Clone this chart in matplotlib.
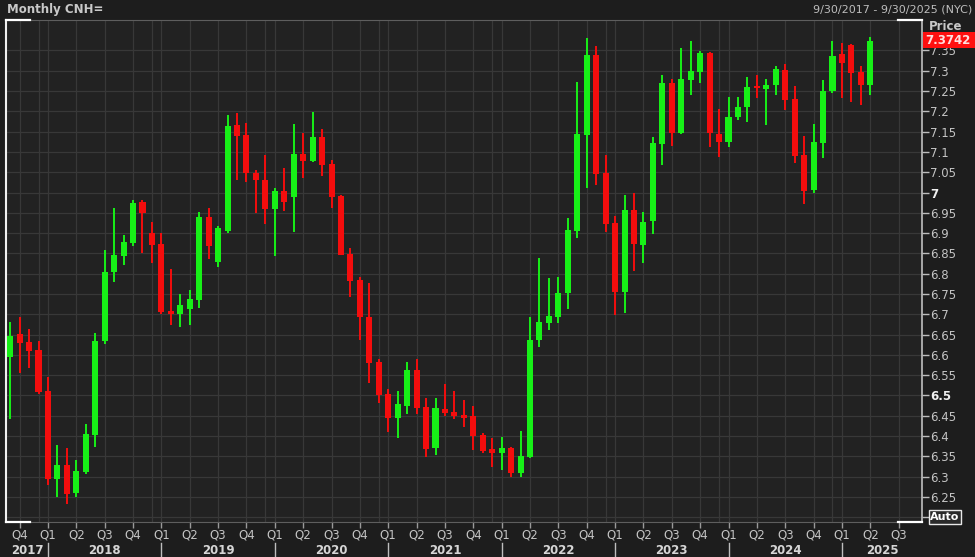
import matplotlib
matplotlib.use('Agg')
import matplotlib.pyplot as plt
import matplotlib.transforms as mtransforms
from matplotlib.patches import Rectangle
import numpy as np
import pandas as pd

# monthly candles, Sep 2017 .. Apr 2025
months = pd.date_range('2017-09-01', '2025-04-01', freq='MS')
axis_months = pd.date_range('2017-09-01', '2025-09-01', freq='MS')

opens = [6.594, 6.651, 6.632, 6.612,
         6.512, 6.294, 6.329, 6.259, 6.311, 6.403, 6.633, 6.803, 6.844, 6.876, 6.977, 6.900,
         6.873, 6.709, 6.701, 6.712, 6.735, 6.939, 6.830, 6.906, 7.166, 7.142, 7.049, 7.032,
         6.959, 7.004, 6.990, 7.096, 7.078, 7.136, 7.070, 6.991, 6.848, 6.784, 6.693, 6.583,
         6.504, 6.444, 6.475, 6.563, 6.471, 6.370, 6.466, 6.460, 6.451, 6.449, 6.403, 6.367,
         6.358, 6.370, 6.310, 6.348, 6.637, 6.678, 6.693, 6.752, 6.904, 7.142, 7.339, 7.047,
         6.924, 6.754, 6.956, 6.871, 6.931, 7.119, 7.270, 7.146, 7.277, 7.298, 7.344, 7.144,
         7.125, 7.187, 7.210, 7.262, 7.254, 7.265, 7.302, 7.230, 7.092, 7.006, 7.123, 7.251,
         7.341, 7.363, 7.298, 7.265]
highs = [6.682, 6.694, 6.663, 6.633,
         6.546, 6.378, 6.370, 6.340, 6.431, 6.653, 6.858, 6.961, 6.895, 6.981, 6.981, 6.928,
         6.900, 6.811, 6.751, 6.761, 6.953, 6.963, 6.917, 7.191, 7.197, 7.172, 7.055, 7.092,
         7.010, 7.060, 7.169, 7.146, 7.199, 7.156, 7.080, 6.993, 6.863, 6.793, 6.776, 6.590,
         6.516, 6.510, 6.583, 6.589, 6.493, 6.493, 6.528, 6.510, 6.489, 6.474, 6.408, 6.396,
         6.398, 6.374, 6.413, 6.694, 6.838, 6.789, 6.793, 6.937, 7.273, 7.380, 7.361, 7.092,
         6.941, 6.994, 6.998, 6.953, 7.136, 7.289, 7.279, 7.355, 7.374, 7.349, 7.347, 7.205,
         7.236, 7.236, 7.285, 7.289, 7.279, 7.312, 7.316, 7.262, 7.139, 7.169, 7.277, 7.374,
         7.369, 7.367, 7.312, 7.384]
lows = [6.441, 6.556, 6.567, 6.504,
        6.280, 6.251, 6.233, 6.251, 6.307, 6.372, 6.627, 6.780, 6.821, 6.868, 6.852, 6.826,
        6.701, 6.674, 6.668, 6.674, 6.715, 6.835, 6.816, 6.901, 7.031, 7.027, 6.950, 6.922,
        6.844, 6.955, 6.903, 7.035, 7.076, 7.041, 6.961, 6.845, 6.742, 6.637, 6.530, 6.482,
        6.411, 6.395, 6.454, 6.455, 6.348, 6.353, 6.450, 6.441, 6.422, 6.366, 6.359, 6.325,
        6.317, 6.300, 6.300, 6.345, 6.620, 6.661, 6.678, 6.712, 6.887, 7.010, 7.018, 6.903,
        6.698, 6.704, 6.807, 6.827, 6.898, 7.068, 7.115, 7.144, 7.240, 7.270, 7.113, 7.088,
        7.111, 7.179, 7.174, 7.232, 7.166, 7.240, 7.203, 7.072, 6.972, 6.998, 7.084, 7.244,
        7.232, 7.224, 7.216, 7.240]
closes = [6.647, 6.630, 6.610, 6.509,
          6.294, 6.329, 6.257, 6.314, 6.405, 6.635, 6.805, 6.846, 6.879, 6.975, 6.950, 6.871,
          6.706, 6.701, 6.722, 6.738, 6.939, 6.868, 6.912, 7.164, 7.140, 7.047, 7.031, 6.959,
          7.004, 6.977, 7.096, 7.078, 7.136, 7.068, 6.988, 6.846, 6.782, 6.694, 6.581, 6.501,
          6.444, 6.478, 6.563, 6.470, 6.367, 6.469, 6.458, 6.450, 6.444, 6.400, 6.364, 6.358,
          6.370, 6.310, 6.350, 6.636, 6.682, 6.696, 6.752, 6.908, 7.144, 7.339, 7.046, 6.922,
          6.756, 6.956, 6.873, 6.928, 7.121, 7.270, 7.146, 7.279, 7.300, 7.344, 7.146, 7.125,
          7.187, 7.210, 7.259, 7.258, 7.265, 7.303, 7.228, 7.090, 7.004, 7.125, 7.251, 7.336,
          7.320, 7.295, 7.265, 7.3742]

y_ticks = np.round(np.arange(6.20, 7.351, 0.05), 2)
last_price = '7.3742'

FIG_BG = '#1d1d1d'
AX_BG = '#222222'
GRID = '#383838'
TXT = '#c4c4c4'
UP = '#17f017'
DOWN = '#f40d0d'

fig = plt.figure(figsize=(9.75, 5.57), dpi=100, facecolor=FIG_BG)
ax = fig.add_axes([6 / 975, 35 / 557, 916 / 975, 502 / 557])
ax.set_facecolor(AX_BG)

idx = np.arange(len(months))
o = np.array(opens)
c = np.array(closes)
colors = [UP if cc >= oo else DOWN for oo, cc in zip(o, c)]
body_lo = np.minimum(o, c)
body_h = np.maximum(np.abs(c - o), 0.004)

ax.vlines(idx, lows, highs, colors=colors, lw=1.4, zorder=3)
ax.bar(idx, body_h, bottom=body_lo, width=0.64, color=colors, zorder=4, linewidth=0)

ax.set_xlim(-0.44, 96.47)
ax.set_ylim(6.1884, 7.4249)

# grid
ax.set_yticks(y_ticks)
ax.grid(axis='y', color=GRID, lw=0.9, zorder=0)
q_pos = [i for i, m in enumerate(axis_months) if m.month in (1, 4, 7, 10)]
q_lab = ['Q%d' % ((axis_months[i].month - 1) // 3 + 1) for i in q_pos]
dec_pos = [i for i, m in enumerate(axis_months) if m.month == 12]
for p in q_pos + dec_pos:
    ax.axvline(p, color=GRID, lw=0.9, zorder=0)

# y axis on the right
ax.yaxis.tick_right()
ylabels = []
for t in y_ticks:
    ylabels.append('' if abs(t - 6.2) < 1e-6 else ('%g' % t))
ax.set_yticklabels(ylabels)
ax.tick_params(axis='y', colors='#bdbdbd', length=5, width=1, pad=1,
               labelsize=8.5, labelcolor=TXT)
for lab, t in zip(ax.get_yticklabels(), y_ticks):
    if abs(t - 6.5) < 1e-6 or abs(t - 7.0) < 1e-6:
        lab.set_fontweight('bold')
        lab.set_color('#f0f0f0')

# x axis quarters
ax.set_xticks(q_pos)
ax.set_xticklabels(q_lab)
ax.tick_params(axis='x', colors='#9a9a9a', length=4, width=1, pad=1,
               labelsize=8.5, labelcolor=TXT)

# years
trans = mtransforms.blended_transform_factory(ax.transData, ax.transAxes)
jan_pos = [i for i, m in enumerate(axis_months) if m.month == 1]
years = [2017] + [axis_months[i].year for i in jan_pos]
bounds = [-0.44] + jan_pos + [96.47]
for k, yr in enumerate(years):
    xc = (bounds[k] + bounds[k + 1]) / 2
    ax.text(xc, -0.056, str(yr), transform=trans, ha='center', va='center',
            fontsize=8.5, fontweight='bold', color='#d6d6d6')
for p in jan_pos:
    ax.plot([p, p], [-0.042, -0.075], transform=trans, color='#bdbdbd',
            lw=1, clip_on=False)

# frame
for s in ['top', 'bottom']:
    ax.spines[s].set_color('#5e5e5e')
ax.spines['left'].set_color('#f0f0f0')
ax.spines['left'].set_linewidth(1.5)
ax.spines['right'].set_color('#c0c0c0')
ax.spines['right'].set_linewidth(1.2)
seg = 24 / 916
for yy in (0, 1):
    ax.plot([0, seg], [yy, yy], transform=ax.transAxes, color='white', lw=1.6, clip_on=False, zorder=6)
    ax.plot([1 - seg, 1], [yy, yy], transform=ax.transAxes, color='white', lw=1.6, clip_on=False, zorder=6)

# header texts
fig.text(7 / 975, 1 - 10 / 557, 'Monthly CNH=', ha='left', va='center',
         fontsize=8.5, fontweight='bold', color='#c8c8c8')
fig.text(972 / 975, 1 - 10 / 557, '9/30/2017 - 9/30/2025 (NYC)', ha='right', va='center',
         fontsize=8, color='#bdbdbd')
fig.text(929 / 975, 1 - 27 / 557, 'Price', ha='left', va='center',
         fontsize=8.5, fontweight='bold', color='#c8c8c8')

# last price tag
fig.patches.append(Rectangle((923 / 975, 1 - 48 / 557), 52 / 975, 16 / 557,
                             transform=fig.transFigure, facecolor='#ff1010',
                             edgecolor='none', zorder=10))
fig.text(925 / 975, 1 - 40 / 557, last_price, ha='left', va='center',
         fontsize=8.5, fontweight='bold', color='#ffe0e0', zorder=11)

# Auto box
fig.text(945 / 975, 1 - 517 / 557, 'Auto', ha='center', va='center',
         fontsize=8, fontweight='bold', color='white',
         bbox=dict(boxstyle='square,pad=0.15', facecolor='#2a2a2a', edgecolor='#e8e8e8', lw=1))

fig.savefig('out.png', dpi=100, facecolor=FIG_BG)
